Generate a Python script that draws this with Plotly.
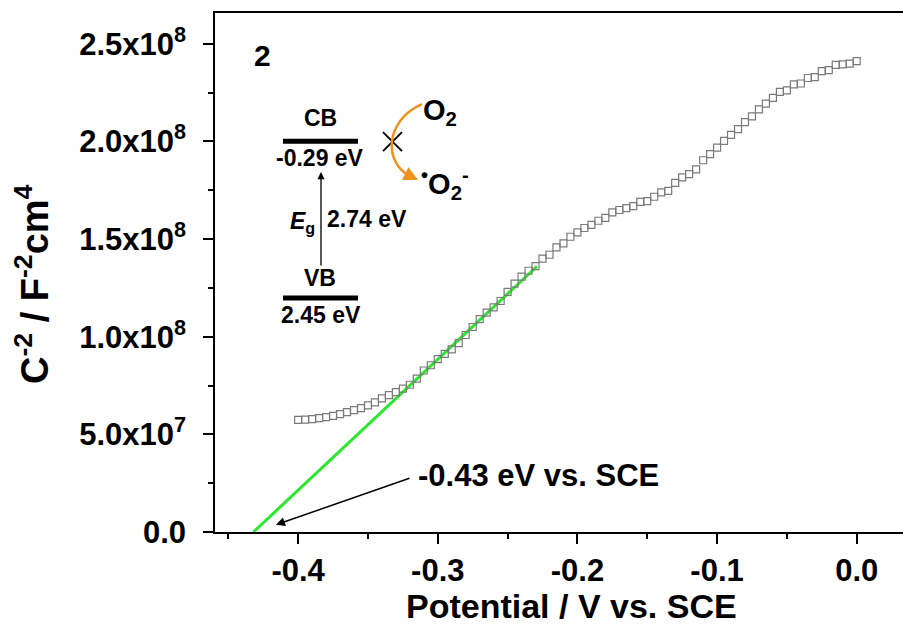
import plotly.graph_objects as go

# ---------------- data ----------------
potential = [round(-0.40 + 0.005 * i, 3) for i in range(81)]
c2_e8 = [
    0.574, 0.576, 0.578, 0.583, 0.588, 0.595, 0.604, 0.614, 0.624, 0.634,
    0.648, 0.664, 0.684, 0.701, 0.716, 0.734, 0.754, 0.785, 0.827, 0.854,
    0.885, 0.912, 0.935, 0.967, 1.009, 1.050, 1.090, 1.123, 1.150, 1.183,
    1.230, 1.272, 1.308, 1.338, 1.362, 1.400, 1.420, 1.458, 1.478, 1.512,
    1.535, 1.557, 1.573, 1.594, 1.609, 1.637, 1.649, 1.659, 1.669, 1.691,
    1.695, 1.717, 1.739, 1.747, 1.788, 1.816, 1.833, 1.857, 1.904, 1.935,
    1.969, 2.003, 2.034, 2.063, 2.099, 2.129, 2.164, 2.194, 2.223, 2.254,
    2.262, 2.292, 2.297, 2.325, 2.330, 2.360, 2.365, 2.392, 2.395, 2.399,
    2.412,
]
c2 = [v * 1e8 for v in c2_e8]

fit_x = [-0.432, -0.229]
fit_y = [0.0, 1.36e8]

x_tick_vals = [-0.4, -0.3, -0.2, -0.1, 0.0]
x_tick_text = ["-0.4", "-0.3", "-0.2", "-0.1", "0.0"]
y_tick_vals = [0, 0.5e8, 1.0e8, 1.5e8, 2.0e8, 2.5e8]
y_tick_text = ["0.0", "5.0x10<sup>7</sup>", "1.0x10<sup>8</sup>", "1.5x10<sup>8</sup>",
               "2.0x10<sup>8</sup>", "2.5x10<sup>8</sup>"]

flat_band_label = "-0.43 eV vs. SCE"
flat_band_x = -0.4159
flat_band_y = 0.037e8

FONT = "Liberation Sans, Arial, sans-serif"

# ---------------- layout geometry ----------------
W, H = 903, 628
L, R, T, B = 215, 903, 12.7, 532.3


def px(x):
    return (x - L) / (R - L)


def py(y):
    return (B - y) / (B - T)


fig = go.Figure()

fig.add_trace(go.Scatter(
    x=fit_x, y=fit_y, mode="lines",
    line=dict(color="#2ee62e", width=3), showlegend=False, hoverinfo="skip"))

fig.add_trace(go.Scatter(
    x=potential, y=c2, mode="markers",
    marker=dict(symbol="square-open", size=7, color="#7a7a7a", line=dict(width=1.2, color="#7a7a7a")),
    showlegend=False))

annotations = []
shapes = []

# flat-band annotation
annotations.append(dict(x=flat_band_x, y=flat_band_y, xref="x", yref="y", text="",
                        showarrow=True, ax=135, ay=-47, arrowhead=2, arrowsize=1.2,
                        arrowwidth=1.5, arrowcolor="black"))
annotations.append(dict(x=px(416), y=py(476), xref="paper", yref="paper",
                        text=flat_band_label, showarrow=False, xanchor="left", yanchor="middle",
                        font=dict(family=FONT, size=31, color="black", weight="bold")))

# axis titles
annotations.append(dict(x=px(571), y=py(606), xref="paper", yref="paper",
                        text="Potential / V vs. SCE", showarrow=False,
                        xanchor="center", yanchor="middle",
                        font=dict(family=FONT, size=34, color="black", weight="bold")))
annotations.append(dict(x=px(32), y=py(284), xref="paper", yref="paper",
                        text="C<sup>-2</sup> / F<sup>-2</sup>cm<sup>4</sup>", showarrow=False,
                        textangle=-90, xanchor="center", yanchor="middle",
                        font=dict(family=FONT, size=38, color="black", weight="bold")))

# inset band diagram


def txt(x, y, s, size=23, bold=True, xanchor="center", **kw):
    annotations.append(dict(x=px(x), y=py(y), xref="paper", yref="paper", text=s,
                            showarrow=False, xanchor=xanchor, yanchor="middle",
                            font=dict(family=FONT, size=size, color="black",
                                      weight="bold" if bold else "normal"), **kw))


txt(262, 55, "2", size=30)
txt(320, 118, "CB")
txt(320, 158, "-0.29 eV")
txt(320, 278, "VB")
txt(321, 315, "2.45 eV")
txt(317, 222, "<i>E</i><sub>g</sub>", xanchor="right")
txt(325, 219, "2.74 eV", xanchor="left")
txt(421, 112, "O<sub>2</sub>", size=29, xanchor="left")
txt(419, 184, "<sup>•</sup>O<sub>2</sub><sup>-</sup>", size=29, xanchor="left")

for yb in (141, 298):
    shapes.append(dict(type="line", xref="paper", yref="paper",
                       x0=px(283), x1=px(358), y0=py(yb), y1=py(yb),
                       line=dict(color="black", width=5)))

# vertical Eg arrow
annotations.append(dict(x=px(321), y=py(172), xref="paper", yref="paper", text="",
                        showarrow=True, ax=0, ay=95, arrowhead=2, arrowsize=1.1,
                        arrowwidth=1.3, arrowcolor="black"))

# cross
shapes.append(dict(type="line", xref="paper", yref="paper",
                   x0=px(383), y0=py(132), x1=px(402), y1=py(151),
                   line=dict(color="black", width=2)))
shapes.append(dict(type="line", xref="paper", yref="paper",
                   x0=px(383), y0=py(151), x1=px(402), y1=py(132),
                   line=dict(color="black", width=2)))

# orange curved arrow
p0, c1, c2p, p1 = (422, 104), (385, 120), (383, 162), (410, 176)
path = "M {},{} C {},{} {},{} {},{}".format(
    px(p0[0]), py(p0[1]), px(c1[0]), py(c1[1]), px(c2p[0]), py(c2p[1]), px(p1[0]), py(p1[1]))
shapes.append(dict(type="path", xref="paper", yref="paper", path=path,
                   line=dict(color="#f0901e", width=2.5)))
annotations.append(dict(x=px(418), y=py(180), xref="paper", yref="paper", text="",
                        showarrow=True, ax=-12, ay=-6, arrowhead=2, arrowsize=1.3,
                        arrowwidth=2.2, arrowcolor="#f0901e"))

fig.update_layout(
    width=W, height=H,
    margin=dict(l=L, r=W - R, t=T, b=H - B),
    paper_bgcolor="white", plot_bgcolor="white",
    showlegend=False,
    annotations=annotations, shapes=shapes,
    xaxis=dict(
        range=[(L - 856.7) / 1396.4, (R - 856.7) / 1396.4],
        tickmode="array", tickvals=x_tick_vals, ticktext=x_tick_text,
        ticks="outside", ticklen=10, tickwidth=1.5, tickcolor="black",
        showline=True, linecolor="black", linewidth=1.5, mirror=True,
        showgrid=False, zeroline=False,
        tickfont=dict(family=FONT, size=31, color="black", weight="bold"),
        minor=dict(dtick=0.05, tick0=0, ticks="outside", ticklen=5, tickwidth=1.5,
                   tickcolor="black", showgrid=False),
    ),
    yaxis=dict(
        range=[0, 2.658e8],
        tickmode="array", tickvals=y_tick_vals, ticktext=y_tick_text,
        ticks="outside", ticklen=10, tickwidth=1.5, tickcolor="black",
        showline=True, linecolor="black", linewidth=1.5,
        showgrid=False, zeroline=False, ticklabelstandoff=11,
        tickfont=dict(family=FONT, size=31, color="black", weight="bold"),
        minor=dict(dtick=0.25e8, tick0=0, ticks="outside", ticklen=5, tickwidth=1.5,
                   tickcolor="black", showgrid=False),
    ),
)

fig.write_html("out.html", config={"displayModeBar": False},
               post_script="document.body.style.margin='0';document.body.style.overflow='hidden';")
